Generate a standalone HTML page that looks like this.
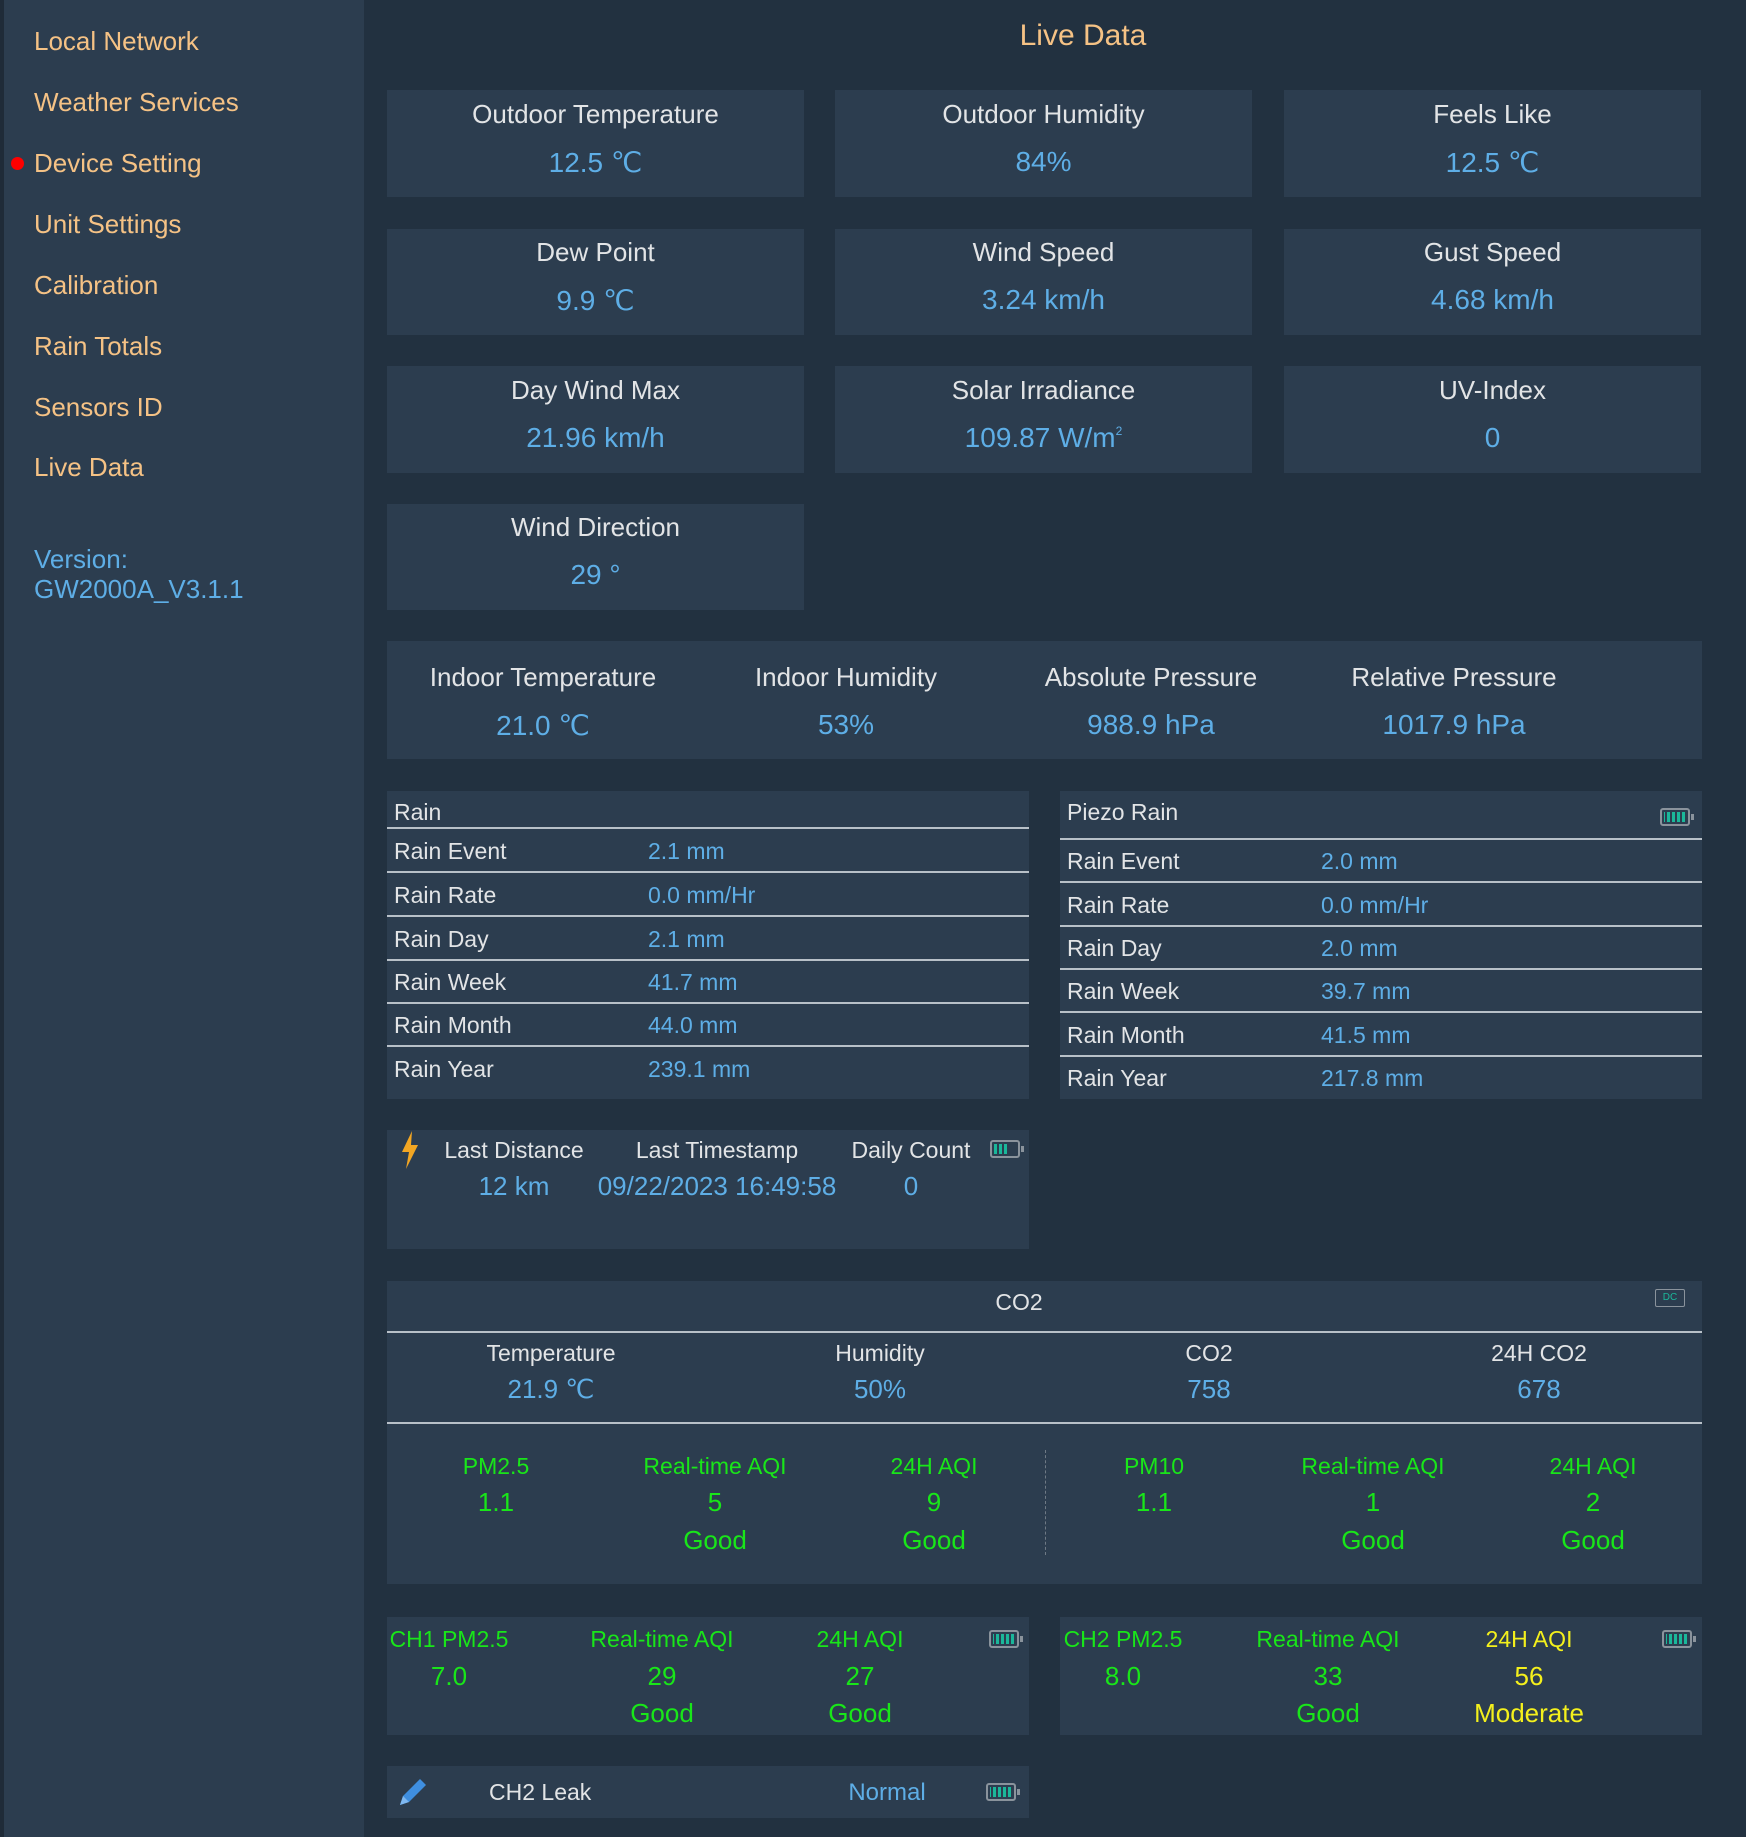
<!DOCTYPE html>
<html><head><meta charset="utf-8"><style>
*{margin:0;padding:0;box-sizing:border-box}
body{width:1746px;height:1837px;background:#223140;font-family:"Liberation Sans",sans-serif;position:relative;overflow:hidden}
.a{position:absolute}
.side{left:0;top:0;width:364px;height:1837px;background:#2c3d4f;border-left:4px solid #1f2b38}
.nav{position:absolute;left:34px;color:#f5c285;font-size:26px;line-height:30px}
.card{position:absolute;background:#2c3d4f}
.lbl{color:#e2e4e6}
.val{color:#5eaee6}
.c{position:absolute;transform:translateX(-50%);white-space:nowrap;text-align:center}
.t{position:absolute;white-space:nowrap}
.g{color:#19e619}.y{color:#f4f01c}
.hl{position:absolute;height:2px;background:#b8c0c8}
.bat{position:absolute;width:30px;height:18px;border:2px solid #8a939c;border-radius:3px;background:repeating-linear-gradient(90deg,#1bb79a 0 3px,#2c3d4f 3px 5px);background-clip:content-box;padding:2px}
.bat:after{content:"";position:absolute;right:-6px;top:4px;width:3px;height:6px;background:#8a939c}
sup{font-size:12px;vertical-align:12px}
</style></head><body>
<div class="a side"></div>
<div class="nav" style="top:26px">Local Network</div>
<div class="nav" style="top:87px">Weather Services</div>
<div class="a" style="left:11px;top:157px;width:13px;height:13px;border-radius:50%;background:#f00"></div>
<div class="nav" style="top:148px">Device Setting</div>
<div class="nav" style="top:209px">Unit Settings</div>
<div class="nav" style="top:270px">Calibration</div>
<div class="nav" style="top:331px">Rain Totals</div>
<div class="nav" style="top:392px">Sensors ID</div>
<div class="nav" style="top:452px">Live Data</div>
<div class="nav" style="top:544px;color:#5eaee6">Version:<br>GW2000A_V3.1.1</div>

<div class="c" style="left:1083px;top:19px;color:#f5c285;font-size:30px">Live Data</div>

<div class="card" style="left:387px;top:90px;width:417px;height:107px"><div class="c lbl" style="left:50%;top:9px;font-size:26px">Outdoor Temperature</div><div class="c val" style="left:50%;top:56px;font-size:28px">12.5 ℃</div></div>
<div class="card" style="left:835px;top:90px;width:417px;height:107px"><div class="c lbl" style="left:50%;top:9px;font-size:26px">Outdoor Humidity</div><div class="c val" style="left:50%;top:56px;font-size:28px">84%</div></div>
<div class="card" style="left:1284px;top:90px;width:417px;height:107px"><div class="c lbl" style="left:50%;top:9px;font-size:26px">Feels Like</div><div class="c val" style="left:50%;top:56px;font-size:28px">12.5 ℃</div></div>
<div class="card" style="left:387px;top:229px;width:417px;height:106px"><div class="c lbl" style="left:50%;top:8px;font-size:26px">Dew Point</div><div class="c val" style="left:50%;top:55px;font-size:28px">9.9 ℃</div></div>
<div class="card" style="left:835px;top:229px;width:417px;height:106px"><div class="c lbl" style="left:50%;top:8px;font-size:26px">Wind Speed</div><div class="c val" style="left:50%;top:55px;font-size:28px">3.24 km/h</div></div>
<div class="card" style="left:1284px;top:229px;width:417px;height:106px"><div class="c lbl" style="left:50%;top:8px;font-size:26px">Gust Speed</div><div class="c val" style="left:50%;top:55px;font-size:28px">4.68 km/h</div></div>
<div class="card" style="left:387px;top:366px;width:417px;height:107px"><div class="c lbl" style="left:50%;top:9px;font-size:26px">Day Wind Max</div><div class="c val" style="left:50%;top:56px;font-size:28px">21.96 km/h</div></div>
<div class="card" style="left:835px;top:366px;width:417px;height:107px"><div class="c lbl" style="left:50%;top:9px;font-size:26px">Solar Irradiance</div><div class="c val" style="left:50%;top:56px;font-size:28px">109.87 W/m<sup>2</sup></div></div>
<div class="card" style="left:1284px;top:366px;width:417px;height:107px"><div class="c lbl" style="left:50%;top:9px;font-size:26px">UV-Index</div><div class="c val" style="left:50%;top:56px;font-size:28px">0</div></div>
<div class="card" style="left:387px;top:504px;width:417px;height:106px"><div class="c lbl" style="left:50%;top:8px;font-size:26px">Wind Direction</div><div class="c val" style="left:50%;top:55px;font-size:28px">29 °</div></div>

<div class="card" style="left:387px;top:641px;width:1315px;height:118px"></div>
<div class="c lbl" style="left:543px;top:662px;font-size:26px">Indoor Temperature</div><div class="c val" style="left:543px;top:709px;font-size:28px">21.0 ℃</div>
<div class="c lbl" style="left:846px;top:662px;font-size:26px">Indoor Humidity</div><div class="c val" style="left:846px;top:709px;font-size:28px">53%</div>
<div class="c lbl" style="left:1151px;top:662px;font-size:26px">Absolute Pressure</div><div class="c val" style="left:1151px;top:709px;font-size:28px">988.9 hPa</div>
<div class="c lbl" style="left:1454px;top:662px;font-size:26px">Relative Pressure</div><div class="c val" style="left:1454px;top:709px;font-size:28px">1017.9 hPa</div>

<div class="card" style="left:387px;top:791px;width:642px;height:308px"></div>
<div class="t lbl" style="left:394px;top:799px;font-size:23px">Rain</div>
<div class="hl" style="left:387px;top:827px;width:642px"></div>
<div class="hl" style="left:387px;top:871px;width:642px"></div>
<div class="hl" style="left:387px;top:915px;width:642px"></div>
<div class="hl" style="left:387px;top:959px;width:642px"></div>
<div class="hl" style="left:387px;top:1002px;width:642px"></div>
<div class="hl" style="left:387px;top:1045px;width:642px"></div>
<div class="t lbl" style="left:394px;top:838px;font-size:23px">Rain Event</div><div class="t val" style="left:648px;top:838px;font-size:23px">2.1 mm</div>
<div class="t lbl" style="left:394px;top:882px;font-size:23px">Rain Rate</div><div class="t val" style="left:648px;top:882px;font-size:23px">0.0 mm/Hr</div>
<div class="t lbl" style="left:394px;top:926px;font-size:23px">Rain Day</div><div class="t val" style="left:648px;top:926px;font-size:23px">2.1 mm</div>
<div class="t lbl" style="left:394px;top:969px;font-size:23px">Rain Week</div><div class="t val" style="left:648px;top:969px;font-size:23px">41.7 mm</div>
<div class="t lbl" style="left:394px;top:1012px;font-size:23px">Rain Month</div><div class="t val" style="left:648px;top:1012px;font-size:23px">44.0 mm</div>
<div class="t lbl" style="left:394px;top:1056px;font-size:23px">Rain Year</div><div class="t val" style="left:648px;top:1056px;font-size:23px">239.1 mm</div>

<div class="card" style="left:1060px;top:791px;width:642px;height:308px"></div>
<div class="t lbl" style="left:1067px;top:799px;font-size:23px">Piezo Rain</div>
<div class="bat" style="left:1660px;top:808px"></div>
<div class="hl" style="left:1060px;top:838px;width:642px"></div>
<div class="hl" style="left:1060px;top:881px;width:642px"></div>
<div class="hl" style="left:1060px;top:925px;width:642px"></div>
<div class="hl" style="left:1060px;top:968px;width:642px"></div>
<div class="hl" style="left:1060px;top:1011px;width:642px"></div>
<div class="hl" style="left:1060px;top:1055px;width:642px"></div>
<div class="t lbl" style="left:1067px;top:848px;font-size:23px">Rain Event</div><div class="t val" style="left:1321px;top:848px;font-size:23px">2.0 mm</div>
<div class="t lbl" style="left:1067px;top:892px;font-size:23px">Rain Rate</div><div class="t val" style="left:1321px;top:892px;font-size:23px">0.0 mm/Hr</div>
<div class="t lbl" style="left:1067px;top:935px;font-size:23px">Rain Day</div><div class="t val" style="left:1321px;top:935px;font-size:23px">2.0 mm</div>
<div class="t lbl" style="left:1067px;top:978px;font-size:23px">Rain Week</div><div class="t val" style="left:1321px;top:978px;font-size:23px">39.7 mm</div>
<div class="t lbl" style="left:1067px;top:1022px;font-size:23px">Rain Month</div><div class="t val" style="left:1321px;top:1022px;font-size:23px">41.5 mm</div>
<div class="t lbl" style="left:1067px;top:1065px;font-size:23px">Rain Year</div><div class="t val" style="left:1321px;top:1065px;font-size:23px">217.8 mm</div>

<div class="card" style="left:387px;top:1130px;width:642px;height:119px"></div>
<svg class="a" style="left:399px;top:1131px" width="22" height="38" viewBox="0 0 22 38"><path d="M13 0 L3 21 L10 21 L7 38 L19 14 L12 14 Z" fill="#f2a623"/></svg>
<div class="c lbl" style="left:514px;top:1137px;font-size:23px">Last Distance</div><div class="c val" style="left:514px;top:1171px;font-size:26px">12 km</div>
<div class="c lbl" style="left:717px;top:1137px;font-size:23px">Last Timestamp</div><div class="c val" style="left:717px;top:1171px;font-size:26px">09/22/2023 16:49:58</div>
<div class="c lbl" style="left:911px;top:1137px;font-size:23px">Daily Count</div><div class="c val" style="left:911px;top:1171px;font-size:26px">0</div>
<div class="bat" style="left:990px;top:1140px;background:repeating-linear-gradient(90deg,#1bb79a 0 3px,#2c3d4f 3px 5px) content-box;background-size:60% 100%;background-repeat:no-repeat"></div>

<div class="card" style="left:387px;top:1281px;width:1315px;height:303px"></div>
<div class="c lbl" style="left:1019px;top:1289px;font-size:23px">CO2</div>
<div class="a" style="left:1655px;top:1289px;width:30px;height:18px;border:1.5px solid #8a939c;border-radius:2px;color:#1bb79a;font-size:10px;text-align:center;line-height:15px">DC</div>
<div class="hl" style="left:387px;top:1331px;width:1315px"></div>
<div class="c lbl" style="left:551px;top:1340px;font-size:23px">Temperature</div><div class="c val" style="left:551px;top:1374px;font-size:26px">21.9 ℃</div>
<div class="c lbl" style="left:880px;top:1340px;font-size:23px">Humidity</div><div class="c val" style="left:880px;top:1374px;font-size:26px">50%</div>
<div class="c lbl" style="left:1209px;top:1340px;font-size:23px">CO2</div><div class="c val" style="left:1209px;top:1374px;font-size:26px">758</div>
<div class="c lbl" style="left:1539px;top:1340px;font-size:23px">24H CO2</div><div class="c val" style="left:1539px;top:1374px;font-size:26px">678</div>
<div class="hl" style="left:387px;top:1422px;width:1315px"></div>
<div class="a" style="left:1045px;top:1450px;height:105px;border-left:1px dashed #6f7a85"></div>
<div class="c g" style="left:496px;top:1453px;font-size:23px">PM2.5</div><div class="c g" style="left:496px;top:1487px;font-size:26px">1.1</div>
<div class="c g" style="left:715px;top:1453px;font-size:23px">Real-time AQI</div><div class="c g" style="left:715px;top:1487px;font-size:26px">5</div><div class="c g" style="left:715px;top:1525px;font-size:26px">Good</div>
<div class="c g" style="left:934px;top:1453px;font-size:23px">24H AQI</div><div class="c g" style="left:934px;top:1487px;font-size:26px">9</div><div class="c g" style="left:934px;top:1525px;font-size:26px">Good</div>
<div class="c g" style="left:1154px;top:1453px;font-size:23px">PM10</div><div class="c g" style="left:1154px;top:1487px;font-size:26px">1.1</div>
<div class="c g" style="left:1373px;top:1453px;font-size:23px">Real-time AQI</div><div class="c g" style="left:1373px;top:1487px;font-size:26px">1</div><div class="c g" style="left:1373px;top:1525px;font-size:26px">Good</div>
<div class="c g" style="left:1593px;top:1453px;font-size:23px">24H AQI</div><div class="c g" style="left:1593px;top:1487px;font-size:26px">2</div><div class="c g" style="left:1593px;top:1525px;font-size:26px">Good</div>

<div class="card" style="left:387px;top:1617px;width:642px;height:118px"></div>
<div class="c g" style="left:449px;top:1626px;font-size:23px">CH1 PM2.5</div><div class="c g" style="left:449px;top:1661px;font-size:26px">7.0</div>
<div class="c g" style="left:662px;top:1626px;font-size:23px">Real-time AQI</div><div class="c g" style="left:662px;top:1661px;font-size:26px">29</div><div class="c g" style="left:662px;top:1698px;font-size:26px">Good</div>
<div class="c g" style="left:860px;top:1626px;font-size:23px">24H AQI</div><div class="c g" style="left:860px;top:1661px;font-size:26px">27</div><div class="c g" style="left:860px;top:1698px;font-size:26px">Good</div>
<div class="bat" style="left:989px;top:1630px"></div>
<div class="card" style="left:1060px;top:1617px;width:642px;height:118px"></div>
<div class="c g" style="left:1123px;top:1626px;font-size:23px">CH2 PM2.5</div><div class="c g" style="left:1123px;top:1661px;font-size:26px">8.0</div>
<div class="c g" style="left:1328px;top:1626px;font-size:23px">Real-time AQI</div><div class="c g" style="left:1328px;top:1661px;font-size:26px">33</div><div class="c g" style="left:1328px;top:1698px;font-size:26px">Good</div>
<div class="c y" style="left:1529px;top:1626px;font-size:23px">24H AQI</div><div class="c y" style="left:1529px;top:1661px;font-size:26px">56</div><div class="c y" style="left:1529px;top:1698px;font-size:26px">Moderate</div>
<div class="bat" style="left:1662px;top:1630px"></div>

<div class="card" style="left:387px;top:1766px;width:642px;height:52px"></div>
<svg class="a" style="left:396px;top:1775px" width="34" height="34" viewBox="0 0 34 34"><path d="M4 30 L7 21 L24 4 L30 10 L13 27 Z" fill="#3f8fe0"/><path d="M4 30 L7 21 L13 27 Z" fill="#7fb8f0"/></svg>
<div class="t lbl" style="left:489px;top:1779px;font-size:23px">CH2 Leak</div>
<div class="c val" style="left:887px;top:1779px;font-size:24px">Normal</div>
<div class="bat" style="left:986px;top:1783px"></div>
</body></html>
